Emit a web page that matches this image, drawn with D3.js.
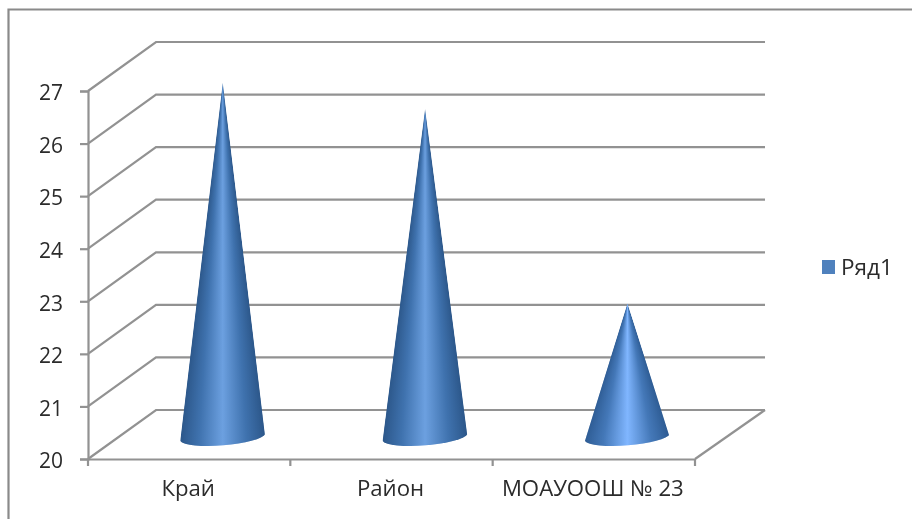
<!DOCTYPE html>
<html>
<head>
<meta charset="utf-8">
<script src="https://d3js.org/d3.v7.min.js"></script>
<style>
  html, body { margin: 0; padding: 0; background: #fff; }
  svg { display: block; filter: blur(0.45px); }
  text { font-family: "Open Sans", sans-serif; fill: #2b2b2b; }
</style>
</head>
<body>
<div id="chart"></div>
<script>
const categories = ["Край", "Район", "МОАУООШ № 23"];
const values = [26.75, 26.25, 22.55];
const yTicks = [20, 21, 22, 23, 24, 25, 26, 27];
const seriesName = "Ряд1";

const chartW = 912, chartH = 519;
const plotLeft = 88, plotRight = 695, plotTop = 91, plotBottom = 459;
const depthX = 68, depthY = 49;   // back wall offset
const grey = "#929292";

const svg = d3.select("#chart").append("svg")
  .attr("width", chartW)
  .attr("height", chartH);

const x = d3.scaleBand().domain(categories).range([plotLeft, plotRight]);
const y = d3.scaleLinear().domain([20, 27]).range([plotBottom, plotTop]);

// cones stand half way into the floor
const midX = depthX / 2 - 0.4, midY = depthY / 2 - 3;
const baseW = 42.5, tilt = 3.5;

// outer chart border, open on the right and bottom
svg.append("path")
  .attr("d", "M8.5," + chartH + "V9.5H" + chartW)
  .attr("fill", "none")
  .attr("stroke", "#8a8a8a")
  .attr("stroke-width", 2.2);

// walls
const walls = svg.append("g").attr("fill", "none").attr("stroke", grey).attr("stroke-width", 2.2);
walls.selectAll("path.grid")
  .data(yTicks)
  .enter()
  .append("path")
  .attr("class", "grid")
  .attr("d", d => "M" + plotLeft + "," + y(d) + "L" + (plotLeft + depthX) + "," + (y(d) - depthY) + "H" + (plotRight + depthX + 2));
walls.append("path")
  .attr("d", "M" + plotRight + "," + plotBottom + "L" + (plotRight + depthX + 2) + "," + (plotBottom - depthY));

// axes
const yAxis = svg.append("g")
  .attr("transform", "translate(" + plotLeft + ",0)")
  .call(d3.axisLeft(y).tickValues(yTicks).tickFormat(d3.format("d")).tickSize(8).tickPadding(17));
const xAxis = svg.append("g")
  .attr("transform", "translate(0," + plotBottom + ")")
  .call(d3.axisBottom(x).tickSize(0).tickPadding(21));
xAxis.selectAll(".tick")
  .attr("transform", d => "translate(" + (x(d) + x.bandwidth() / 2 - 1) + ",0)");
xAxis.selectAll("line.edge")
  .data(d3.range(categories.length + 1))
  .enter()
  .append("line")
  .attr("class", "edge")
  .attr("x1", i => plotLeft + i * x.step())
  .attr("x2", i => plotLeft + i * x.step())
  .attr("y2", 7)
  .attr("stroke", grey)
  .attr("stroke-width", 2.2);
svg.selectAll(".domain, .tick line").attr("stroke", grey).attr("stroke-width", 2.2);
svg.selectAll(".tick text").attr("font-family", '"Open Sans", sans-serif').attr("fill", "#2b2b2b");
yAxis.selectAll(".tick text").attr("font-size", 21).attr("dy", "0.42em");
xAxis.selectAll(".tick text").attr("font-size", 22.2);

// cone shading, one gradient per cone
const defs = svg.append("defs");
const shades = [
  ["#2c578a", "#3f72ae", "#6ca0e0"],
  ["#2c578a", "#3f72ae", "#6ca0e0"],
  ["#2e5c94", "#4478b8", "#80b6ff"]
];
shades.forEach((s, i) => {
  const g = defs.append("linearGradient").attr("id", "cone" + i);
  g.append("stop").attr("offset", "0%").attr("stop-color", s[0]);
  g.append("stop").attr("offset", "22%").attr("stop-color", s[1]);
  g.append("stop").attr("offset", "50%").attr("stop-color", s[2]);
  g.append("stop").attr("offset", "78%").attr("stop-color", s[1]);
  g.append("stop").attr("offset", "100%").attr("stop-color", s[0]);
});

// each cone is clipped to its outline and filled with 1px rows, so that the
// gradient narrows towards the tip
values.forEach((d, i) => {
  const cx = x(categories[i]) + x.bandwidth() / 2 + midX;
  const by = y(20) - midY;
  const tipY = y(d) - midY;

  defs.append("clipPath").attr("id", "clip" + i)
    .append("path")
    .attr("d", "M" + (cx - baseW) + "," + (by + tilt) +
      "L" + cx + "," + tipY +
      "L" + (cx + baseW) + "," + (by - tilt) +
      "A" + (baseW + 0.5) + ",9 -4.7 0 1 " + (cx - baseW) + "," + (by + tilt) + "Z");

  const halfWidth = d3.scaleLinear().domain([tipY, by]).range([0.3, baseW]).clamp(true);

  svg.append("g")
    .attr("class", "cone")
    .attr("clip-path", "url(#clip" + i + ")")
    .selectAll("rect")
    .data(d3.range(Math.floor(tipY), by + 12))
    .enter()
    .append("rect")
    .attr("x", r => cx - halfWidth(r))
    .attr("y", r => r)
    .attr("width", r => 2 * halfWidth(r))
    .attr("height", 1.3)
    .attr("fill", "url(#cone" + i + ")");
});

// legend
svg.append("rect")
  .attr("x", 822).attr("y", 260)
  .attr("width", 13).attr("height", 14)
  .attr("fill", "#4f81bd");
svg.append("text")
  .attr("x", 841).attr("y", 275)
  .attr("font-size", 22.5)
  .text(seriesName);
</script>
</body>
</html>
